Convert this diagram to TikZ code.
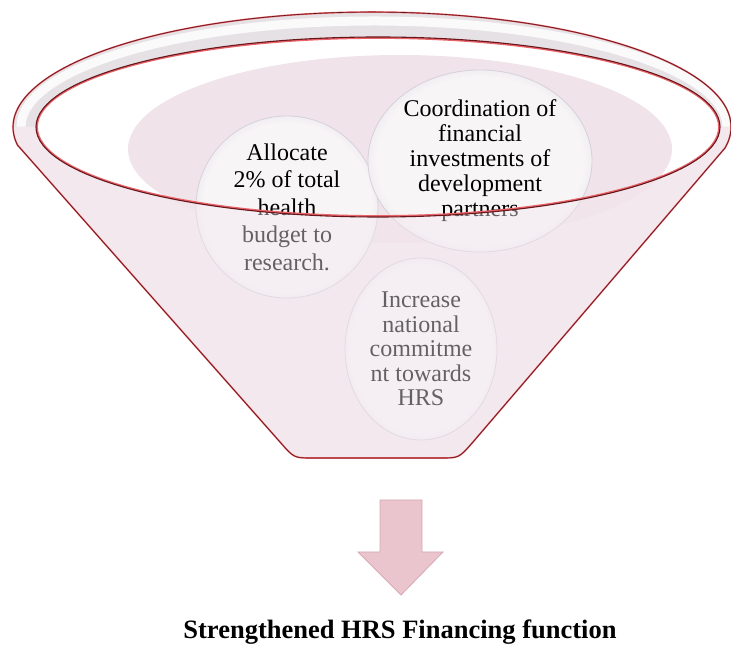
\documentclass[tikz,border=0pt]{standalone}
\usepackage{fontspec}
\setmainfont{Liberation Serif}
\usepackage{tikz}
\usetikzlibrary{shapes.geometric}

\definecolor{conebody}{RGB}{243,232,238}
\definecolor{ringgray}{RGB}{230,225,229}
\definecolor{backpink}{RGB}{240,227,234}
\definecolor{bubblefill}{RGB}{248,245,247}
\definecolor{bubbleedge}{RGB}{196,190,202}
\definecolor{rimdark}{RGB}{105,22,28}
\definecolor{rimred}{RGB}{232,100,104}
\definecolor{arrowpink}{RGB}{234,197,206}
\definecolor{arrowedge}{RGB}{214,168,180}

\pgfdeclareradialshading{lens}{\pgfpoint{0bp}{0bp}}{color(0bp)=(bubblefill); color(23bp)=(bubblefill);
    color(30bp)=(bubbleedge!45!bubblefill); color(35bp)=(bubbleedge); color(50bp)=(bubbleedge)}

\tikzset{
    bubble/.style={ellipse, shading=lens, draw=bubbleedge!70!white, line width=.8pt,
        align=center, inner sep=0pt},
    rimline/.style={rimred, line width=1.6pt},
    rimcore/.style={rimdark, line width=0.7pt}
}

% funnel outline: top arc of the rim, sides and rounded bottom
\newcommand\conepath{(725,497) arc [start angle=-10.5, end angle=189, x radius=359, y radius=115]
    -- (280,203) .. controls (294,187) .. (312,187) -- (441,187) .. controls (459,187) .. (473,203) -- cycle}

\begin{document}
\begin{tikzpicture}[x=1pt,y=1pt]
    \useasboundingbox (0,0) rectangle (731,645);
    \fill[conebody] \conepath;
    \begin{scope}
        \clip (0,518) rectangle (731,645);
        \fill[ringgray, even odd rule] (372,518) ellipse [x radius=359, y radius=115]
            (378,518) ellipse [x radius=342, y radius=90];
        \draw[white, line width=9pt, opacity=.85] (374,518) ellipse [x radius=353, y radius=106];
    \end{scope}
    \fill[white] (378,518) ellipse [x radius=342, y radius=90];
    \fill[backpink] (400,496) ellipse [x radius=272, y radius=94];

    \node[bubble, minimum width=182, minimum height=182, font=\fontsize{24}{27.5}\selectfont]
        (alloc) at (287,438) {Allocate\\2\% of total\\health\\budget to\\research.};
    \node[bubble, minimum width=224, minimum height=182, font=\fontsize{24}{25}\selectfont]
        (coord) at (480,484) {Coordination of\\financial\\investments of\\development\\partners};
    \node[bubble, minimum width=152, minimum height=182, font=\fontsize{24}{24.5}\selectfont]
        (commit) at (421,296) {Increase\\national\\commitme\\nt towards\\HRS};

    % front wall of the funnel, seen through
    \begin{scope}
        \clip (0,0) rectangle (731,518);
        \fill[conebody, opacity=.42, even odd rule] \conepath (378,518) ellipse [x radius=342, y radius=90];
    \end{scope}

    \draw[rimline] \conepath;
    \draw[rimcore] \conepath;
    \draw[rimred, line width=1.8pt] (378,518) ellipse [x radius=341, y radius=89];
    \draw[rimdark, line width=1.1pt] (378,518) ellipse [x radius=342, y radius=90];

    \fill[arrowpink, draw=arrowedge, line width=.8pt] (380,145) -- (422,145) -- (422,93) -- (443,93)
        -- (401,50) -- (358,93) -- (380,93) -- cycle;
    \node[anchor=base, font=\fontsize{26.5}{30}\bfseries] (result) at (400,6) {Strengthened HRS Financing function};
\end{tikzpicture}
\end{document}
